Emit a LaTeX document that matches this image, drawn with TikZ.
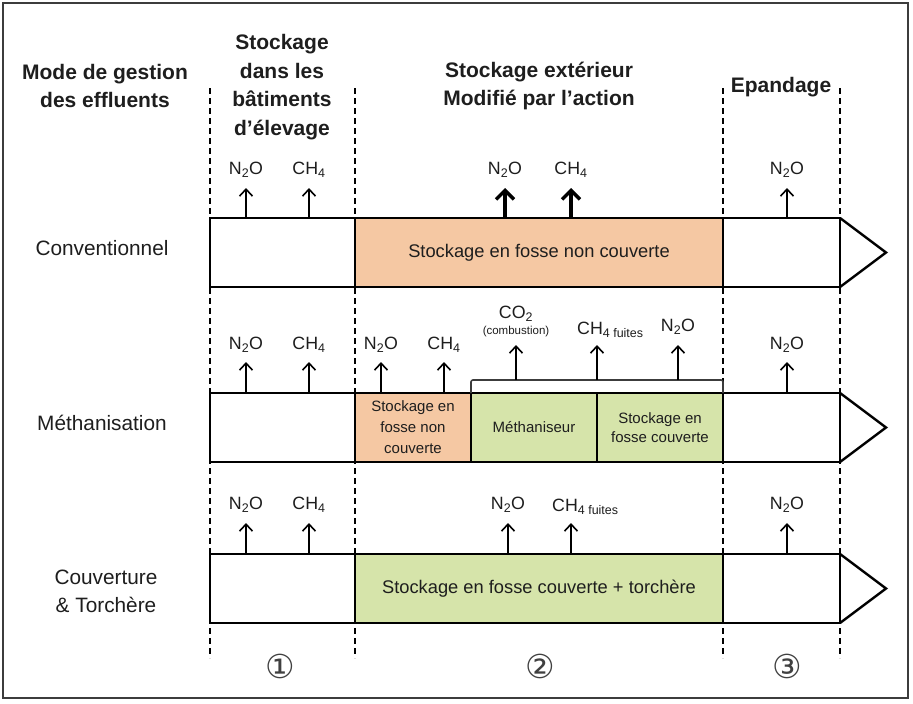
\documentclass[tikz,border=0pt]{standalone}
\usepackage{fontspec}
\setmainfont{Liberation Sans}
\newfontfamily\symfont{DejaVu Sans}
\usetikzlibrary{arrows.meta}
\newcommand\sbs[1]{\textsubscript{#1}}
\definecolor{orng}{RGB}{245,200,163}
\definecolor{grn}{RGB}{214,228,170}
\definecolor{txt}{RGB}{30,30,30}
\definecolor{frm}{RGB}{60,60,60}
\tikzset{
  barbox/.style={draw=black, line width=2.4pt, minimum height=69pt, inner sep=0pt, outer sep=0pt, anchor=north west, text=txt, font=\fontsize{18.3}{21}\selectfont, align=center},
  smallbox/.style={barbox, font=\fontsize{15}{21}\selectfont},
  gas/.style={text=txt, inner sep=0pt, font=\fontsize{17.8}{20}\selectfont},
  up/.style={line width=1.6pt, -{Straight Barb[length=7pt, width=13pt, line width=1.6pt]}},
  upthick/.style={line width=3.4pt, -{Straight Barb[length=9pt, width=18pt, line width=3.4pt]}},
  header/.style={text=txt, align=center, font=\bfseries\fontsize{21}{28.5}\selectfont},
  rowlab/.style={text=txt, align=center, font=\fontsize{20.8}{28}\selectfont},
  sepline/.style={line width=1.4pt, dash pattern=on 6pt off 4pt},
  tri/.style={line width=2.4pt, line join=miter},
  brk/.style={line width=1.6pt, draw=frm, rounded corners=2pt},
  numlab/.style={text=black!75, font=\symfont\fontsize{33}{33}\selectfont}
}
\begin{document}
\begin{tikzpicture}[x=1pt,y=-1pt]
\useasboundingbox (0,0) rectangle (913,704);
\fill[white] (0,0) rectangle (913,704);
\draw[frm, line width=1.5pt] (3,3) rectangle (908,698);

% separators
\foreach \xx in {210,355,723,840}
  \draw[sepline] (\xx,88) -- (\xx,658);

% headers
\node[header] (h0) at (105,86) {Mode de gestion\\des effluents};
\node[header] (h1) at (282,87) {Stockage\\dans les\\bâtiments\\d’élevage};
\node[header] (h2) at (539,86) {Stockage extérieur\\Modifié par l’action};
\node[header, fill=white, inner xsep=3pt] (h3) at (781,87) {Epandage};

% row labels
\node[rowlab] (r1) at (102,248) {Conventionnel};
\node[rowlab] (r2) at (102,423) {Méthanisation};
\node[rowlab] (r3) at (106,591) {Couverture\\\& Torchère};

% ---- row 1
\node[barbox, fill=white, minimum width=145pt] (c1) at (210,218) {};
\node[barbox, fill=orng, minimum width=368pt] (c2) at (355,218) {Stockage en fosse non couverte};
\node[barbox, fill=white, minimum width=117pt] (c3) at (723,218) {};
\draw[tri] (c3.north east) -- ([xshift=46pt]c3.east) -- (c3.south east);

% ---- row 2
\node[barbox, fill=white, minimum width=145pt] (m0) at (210,393) {};
\node[smallbox, fill=orng, minimum width=116pt] (m1) at (355,393) {Stockage en\\fosse non\\couverte};
\node[smallbox, fill=grn, minimum width=126pt] (m2) at (471,393) {Méthaniseur};
\node[smallbox, fill=grn, minimum width=126pt, font=\fontsize{15}{19}\selectfont] (m3) at (597,393) {Stockage en\\fosse couverte};
\node[barbox, fill=white, minimum width=117pt] (m4) at (723,393) {};
\draw[tri] (m4.north east) -- ([xshift=46pt]m4.east) -- (m4.south east);
\draw[brk] (m2.north west) |- ([yshift=13pt]m3.north east) coordinate (bk) -- (m3.north east);

% ---- row 3
\node[barbox, fill=white, minimum width=145pt] (k0) at (210,554) {};
\node[barbox, fill=grn, minimum width=368pt] (k1) at (355,554) {Stockage en fosse couverte + torchère};
\node[barbox, fill=white, minimum width=117pt] (k2) at (723,554) {};
\draw[tri] (k2.north east) -- ([xshift=46pt]k2.east) -- (k2.south east);

% ---- gas labels row 1
\node[gas] (g11) at (246,170) {N\sbs{2}O};
\node[gas] (g12) at (309,170) {CH\sbs{4}};
\node[gas] (g13) at (505,170) {N\sbs{2}O};
\node[gas] (g14) at (571,170) {CH\sbs{4}};
\node[gas] (g15) at (787,170) {N\sbs{2}O};
\coordinate (t11) at (246,188);
\coordinate (t12) at (309,188);
\coordinate (t13) at (505,188);
\coordinate (t14) at (571,188);
\coordinate (t15) at (787,188);
\draw[up] (t11 |- c1.north) -- (t11);
\draw[up] (t12 |- c1.north) -- (t12);
\draw[upthick] (t13 |- c2.north) -- (t13);
\draw[upthick] (t14 |- c2.north) -- (t14);
\draw[up] (t15 |- c3.north) -- (t15);

% ---- gas labels row 2
\node[gas] (g21) at (246,345) {N\sbs{2}O};
\node[gas] (g22) at (309,345) {CH\sbs{4}};
\node[gas] (g23) at (381,345) {N\sbs{2}O};
\node[gas] (g24) at (444,345) {CH\sbs{4}};
\node[gas] (g25) at (516,314) {CO\sbs{2}};
\node[gas, font=\fontsize{11.5}{12}\selectfont] (g25b) at (516,332) {(combustion)};
\node[gas, anchor=west] (g26) at (577,330) {CH\textsubscript{4 fuites}};
\node[gas] (g27) at (678,327) {N\sbs{2}O};
\node[gas] (g28) at (787,345) {N\sbs{2}O};
\coordinate (t21) at (246,362);
\coordinate (t22) at (309,362);
\coordinate (t23) at (381,362);
\coordinate (t24) at (444,362);
\coordinate (t25) at (516,345);
\coordinate (t26) at (597,345);
\coordinate (t27) at (678,345);
\coordinate (t28) at (787,362);
\draw[up] (t21 |- m0.north) -- (t21);
\draw[up] (t22 |- m0.north) -- (t22);
\draw[up] (t23 |- m1.north) -- (t23);
\draw[up] (t24 |- m1.north) -- (t24);
\draw[up] (t25 |- bk) -- (t25);
\draw[up] (t26 |- bk) -- (t26);
\draw[up] (t27 |- bk) -- (t27);
\draw[up] (t28 |- m4.north) -- (t28);

% ---- gas labels row 3
\node[gas] (g31) at (246,505) {N\sbs{2}O};
\node[gas] (g32) at (309,505) {CH\sbs{4}};
\node[gas] (g33) at (508,505) {N\sbs{2}O};
\node[gas, anchor=west] (g34) at (552,507) {CH\textsubscript{4 fuites}};
\node[gas] (g35) at (787,505) {N\sbs{2}O};
\coordinate (t31) at (246,523);
\coordinate (t32) at (309,523);
\coordinate (t33) at (508,523);
\coordinate (t34) at (571,523);
\coordinate (t35) at (787,523);
\draw[up] (t31 |- k0.north) -- (t31);
\draw[up] (t32 |- k0.north) -- (t32);
\draw[up] (t33 |- k1.north) -- (t33);
\draw[up] (t34 |- k1.north) -- (t34);
\draw[up] (t35 |- k2.north) -- (t35);

% ---- circled numbers
\node[numlab] (n1) at (280,666) {①};
\node[numlab] (n2) at (540,666) {②};
\node[numlab] (n3) at (787,666) {③};
\end{tikzpicture}
\end{document}
